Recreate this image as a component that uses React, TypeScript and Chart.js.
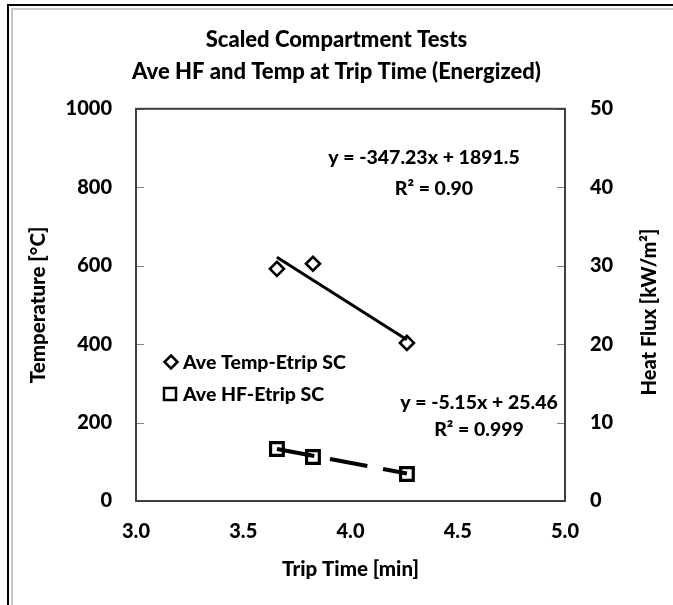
import React, { useEffect, useRef } from 'react';
import { Chart, registerables } from 'chart.js';

Chart.register(...registerables);

const titleLines = ['Scaled Compartment Tests', 'Ave HF and Temp at Trip Time (Energized)'];
const tripTimes = [3.657, 3.825, 4.263];
const tempValues = [592, 605, 403];
const hfValues = [6.63, 5.61, 3.44];
const tempFit = [-347.23, 1891.5];
const hfFit = [-5.15, 25.46];
const tempR2 = '0.90';
const hfR2 = '0.999';
const seriesNames = ['Ave Temp-Etrip SC', 'Ave HF-Etrip SC'];
const xTitle = 'Trip Time [min]';
const yTitle = 'Temperature [°C]';
const y1Title = 'Heat Flux [kW/m²]';

const FONT = 'Lato, "Open Sans", sans-serif';
const W = '900';

const fitLine = (fit: number[]) => {
  const x0 = Math.min(...tripTimes);
  const x1 = Math.max(...tripTimes);
  return [
    { x: x0, y: fit[0] * x0 + fit[1] },
    { x: x1, y: fit[0] * x1 + fit[1] },
  ];
};

const eqText = (fit: number[]) => `y = ${fit[0]}x + ${fit[1]}`;

const decor = {
  id: 'decor',
  beforeDraw(chart: any) {
    const { ctx, width, height } = chart;
    ctx.save();
    ctx.fillStyle = '#fff';
    ctx.fillRect(0, 0, width, height);
    ctx.fillStyle = '#000';
    ctx.fillRect(7, 4, width - 7, 2);
    ctx.fillRect(7, 4, 2, height - 4);
    ctx.fillStyle = '#c8c8c8';
    ctx.fillRect(11, 8, width - 11, 2);
    ctx.fillRect(11, 8, 2, height - 8);
    ctx.restore();
  },
  afterDraw(chart: any) {
    const { ctx, chartArea } = chart;
    const { left, right, top, bottom } = chartArea;
    const ys = chart.scales.y;
    const y1s = chart.scales.y1;
    ctx.save();
    ctx.strokeStyle = '#808080';
    ctx.lineWidth = 1;
    ys.ticks.forEach((t: any) => {
      const p = Math.round(ys.getPixelForValue(t.value)) + 0.5;
      ctx.beginPath();
      ctx.moveTo(left, p);
      ctx.lineTo(left + 8, p);
      ctx.stroke();
    });
    y1s.ticks.forEach((t: any) => {
      const p = Math.round(y1s.getPixelForValue(t.value)) + 0.5;
      ctx.beginPath();
      ctx.moveTo(right - 8, p);
      ctx.lineTo(right, p);
      ctx.stroke();
    });
    ctx.strokeStyle = '#404040';
    ctx.lineWidth = 2;
    ctx.strokeRect(left, top, right - left, bottom - top);

    ctx.fillStyle = '#000';
    ctx.font = `${W} 20px ${FONT}`;
    ctx.textAlign = 'center';
    ctx.textBaseline = 'middle';
    ctx.save();
    ctx.translate(650, 312);
    ctx.rotate(-Math.PI / 2);
    ctx.fillText(y1Title, 0, 0);
    ctx.restore();

    ctx.font = `${W} 19.5px ${FONT}`;
    ctx.textAlign = 'left';
    ctx.strokeStyle = '#000';
    ctx.lineWidth = 2.5;
    const dx = 171, dy = 362, r = 6.5;
    ctx.beginPath();
    ctx.moveTo(dx, dy - r);
    ctx.lineTo(dx + r, dy);
    ctx.lineTo(dx, dy + r);
    ctx.lineTo(dx - r, dy);
    ctx.closePath();
    ctx.stroke();
    ctx.fillText(seriesNames[0], 183, dy + 1);
    const sx = 170, sy = 394, s = 6;
    ctx.lineWidth = 2.5;
    ctx.strokeRect(sx - s, sy - s, 2 * s, 2 * s);
    ctx.fillText(seriesNames[1], 183, sy + 1);

    ctx.textAlign = 'center';
    ctx.fillText(eqText(tempFit), 424, 158);
    ctx.fillText(`R² = ${tempR2}`, 434, 189);
    ctx.fillText(eqText(hfFit), 479, 403);
    ctx.fillText(`R² = ${hfR2}`, 479, 430);
    ctx.restore();
  },
};

export default function App() {
  const ref = useRef<HTMLCanvasElement>(null);
  useEffect(() => {
    if (!ref.current) return;
    const tickFont = { family: FONT, size: 20, weight: W as any };
    const axisTitleFont = { family: FONT, size: 20.5, weight: W as any };
    const chart = new Chart(ref.current, {
      type: 'scatter',
      data: {
        datasets: [
          {
            label: seriesNames[0],
            data: tripTimes.map((x, i) => ({ x, y: tempValues[i] })),
            yAxisID: 'y',
            pointStyle: 'rectRot',
            pointRadius: 7,
            pointBorderWidth: 2.6,
            pointBackgroundColor: 'rgba(255,255,255,0)',
            pointBorderColor: '#000',
            showLine: false,
            order: 1,
          },
          {
            label: seriesNames[1],
            data: tripTimes.map((x, i) => ({ x, y: hfValues[i] })),
            yAxisID: 'y1',
            pointStyle: 'rect',
            pointRadius: 9,
            pointBorderWidth: 3.2,
            pointBackgroundColor: 'rgba(255,255,255,0)',
            pointBorderColor: '#000',
            showLine: false,
            order: 1,
          },
          {
            label: 'temp fit',
            data: fitLine(tempFit),
            yAxisID: 'y',
            showLine: true,
            pointRadius: 0,
            borderColor: '#000',
            borderWidth: 3,
            order: 2,
          },
          {
            label: 'hf fit',
            data: fitLine(hfFit),
            yAxisID: 'y1',
            showLine: true,
            pointRadius: 0,
            borderColor: '#000',
            borderWidth: 4,
            borderDash: [38, 16],
            order: 2,
          },
        ],
      },
      options: {
        animation: false,
        responsive: false,
        devicePixelRatio: 1,
        layout: { padding: 0 },
        plugins: {
          legend: { display: false },
          tooltip: { enabled: false },
          title: {
            display: true,
            text: titleLines,
            color: '#000',
            font: { family: FONT, size: 22, weight: W as any, lineHeight: 1.45 },
            padding: { top: 24, bottom: 21 },
          },
        },
        scales: {
          x: {
            type: 'linear',
            min: 3,
            max: 5,
            grid: { display: false, drawTicks: false },
            border: { display: false },
            ticks: {
              stepSize: 0.5,
              padding: 19,
              color: '#000',
              font: tickFont,
              callback: (v: any) => Number(v).toFixed(1),
            },
            title: {
              display: true,
              text: xTitle,
              color: '#000',
              font: axisTitleFont,
              padding: { top: 0, bottom: 23 },
            },
            afterFit: (s: any) => { s.height = 104; },
          },
          y: {
            type: 'linear',
            position: 'left',
            min: 0,
            max: 1000,
            grid: { display: false, drawTicks: false },
            border: { display: false },
            ticks: {
              stepSize: 200,
              padding: 24,
              color: '#000',
              font: tickFont,
              callback: (v: any) => String(v),
            },
            title: {
              display: true,
              text: yTitle,
              color: '#000',
              font: axisTitleFont,
              padding: { top: 26, bottom: 0 },
            },
            afterFit: (s: any) => { s.width = 136; },
          },
          y1: {
            type: 'linear',
            position: 'right',
            min: 0,
            max: 50,
            grid: { display: false, drawTicks: false },
            border: { display: false },
            ticks: {
              stepSize: 10,
              padding: 25,
              color: '#000',
              font: tickFont,
              callback: (v: any) => String(v),
            },
            afterFit: (s: any) => { s.width = 108; },
          },
        },
      },
      plugins: [decor],
    });
    return () => chart.destroy();
  }, []);
  return (
    <div style={{ position: 'fixed', left: 0, top: 0, width: 673, height: 605 }}>
      <canvas ref={ref} width={673} height={605} style={{ display: 'block' }} />
    </div>
  );
}
